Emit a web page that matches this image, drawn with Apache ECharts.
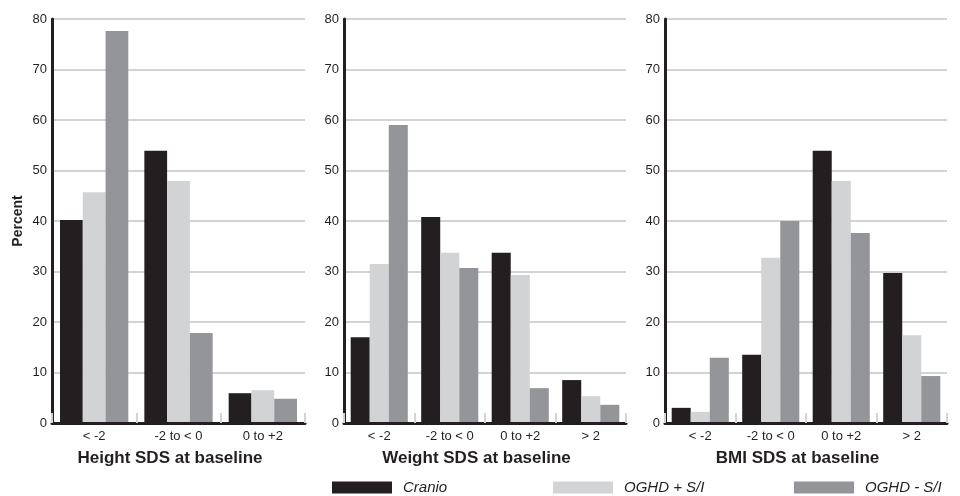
<!DOCTYPE html>
<html>
<head>
<meta charset="utf-8">
<script src="https://cdn.jsdelivr.net/npm/echarts@6/dist/echarts.min.js"></script>
<style>
  html, body { margin: 0; padding: 0; background: #fff; }
  #chart { width: 960px; height: 496px; }
</style>
</head>
<body>
<div id="chart"></div>
<script>
// data (percent)
const seriesNames = ['Cranio', 'OGHD + S/I', 'OGHD - S/I']
const colors = ['#231f20', '#d1d3d4', '#939598']

const heightCats = ['< -2', '-2 to < 0', '0 to +2']
const heightCranio = [40.2, 53.9, 5.9]
const heightWith = [45.7, 47.9, 6.5]
const heightWithout = [77.6, 17.8, 4.8]

const weightCats = ['< -2', '-2 to < 0', '0 to +2', '> 2']
const weightCranio = [17.0, 40.8, 33.7, 8.5]
const weightWith = [31.5, 33.7, 29.3, 5.3]
const weightWithout = [59.0, 30.7, 6.9, 3.6]

const bmiCats = ['< -2', '-2 to < 0', '0 to +2', '> 2']
const bmiCranio = [3.0, 13.5, 53.9, 29.7]
const bmiWith = [2.2, 32.7, 47.9, 17.4]
const bmiWithout = [12.9, 40.0, 37.6, 9.3]

const panels = [
  { cats: heightCats, values: [heightCranio, heightWith, heightWithout], title: 'Height SDS at baseline', left: 52 },
  { cats: weightCats, values: [weightCranio, weightWith, weightWithout], title: 'Weight SDS at baseline', left: 344 },
  { cats: bmiCats, values: [bmiCranio, bmiWith, bmiWithout], title: 'BMI SDS at baseline', left: 665 },
]
const panelWidths = [253, 282, 282]

const font = 'Liberation Sans, Arial, Helvetica, sans-serif'
const ink = '#231f20'

const grid = panels.map((p, i) => ({
  left: p.left, width: panelWidths[i], top: 19, bottom: 73
}))

const xAxis = panels.map((p, i) => ({
  type: 'category',
  gridIndex: i,
  data: p.cats,
  name: p.title,
  nameLocation: 'middle',
  nameGap: 27,
  // titles sit a little left of the panel centre in the original
  nameTextStyle: { fontFamily: font, fontSize: 17, fontWeight: 'bold', color: ink, padding: [0, 17, 0, 0] },
  axisLine: { lineStyle: { color: ink, width: 3 } },
  axisTick: { show: true, inside: true, length: 10, lineStyle: { color: '#d1d3d4', width: 2 } },
  axisLabel: { fontFamily: font, fontSize: 13, color: ink, margin: 7 },
  z: 5
}))

// y axis stays below the bars so the grid lines sit behind them
const yAxis = panels.map((p, i) => ({
  type: 'value',
  gridIndex: i,
  min: 0,
  max: 80,
  interval: 10,
  name: i === 0 ? 'Percent' : '',
  nameLocation: 'middle',
  nameGap: 27,
  nameTextStyle: { fontFamily: font, fontSize: 14, fontWeight: 'bold', color: ink },
  axisLine: { show: true, lineStyle: { color: ink, width: 3 } },
  axisTick: { show: false },
  axisLabel: { fontFamily: font, fontSize: 13, color: ink, margin: 5 },
  splitLine: { show: true, lineStyle: { color: '#d1d3d4', width: 2 } }
}))

const series = []
panels.forEach((p, i) => {
  p.values.forEach((vals, k) => {
    series.push({
      type: 'bar',
      name: seriesNames[k],
      xAxisIndex: i,
      yAxisIndex: i,
      data: vals,
      barGap: '0%',
      barCategoryGap: '19%',
      itemStyle: { color: colors[k] },
      emphasis: { disabled: true }
    })
  })
})

const legendLefts = [332, 553, 794]
const legend = seriesNames.map((n, k) => ({
  data: [n],
  left: legendLefts[k],
  top: 480,
  padding: 0,
  icon: 'rect',
  itemWidth: 60,
  itemHeight: 12,
  selectedMode: false,
  textStyle: { fontFamily: font, fontSize: 15, fontStyle: 'italic', color: ink, padding: [0, 0, 0, 6] }
}))

const chart = echarts.init(document.getElementById('chart'))
chart.setOption({
  animation: false,
  color: colors,
  grid, xAxis, yAxis, series, legend
})
</script>
</body>
</html>
